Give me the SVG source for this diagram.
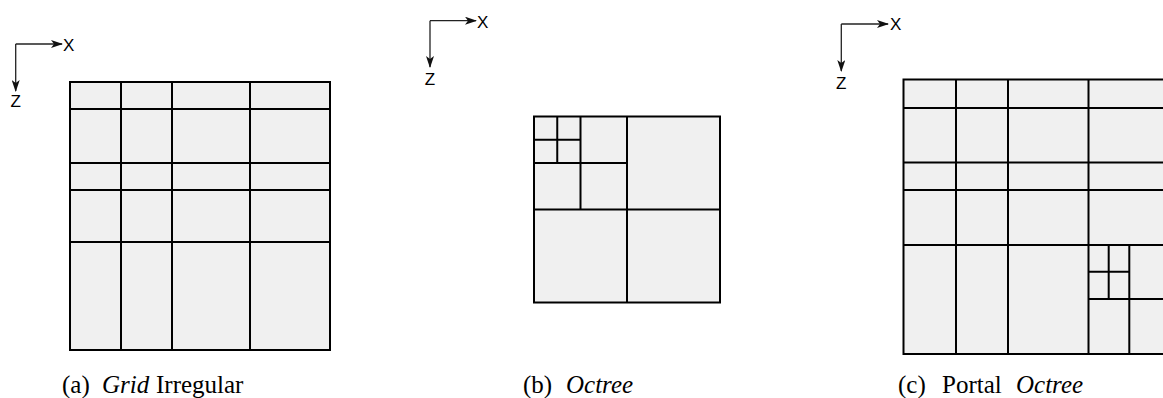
<svg xmlns="http://www.w3.org/2000/svg" width="1163" height="398" viewBox="0 0 1163 398">
<defs>
<marker id="ah" viewBox="0 0 12 8" refX="11" refY="4" markerWidth="12" markerHeight="8" markerUnits="userSpaceOnUse" orient="auto">
<path d="M0,0 L12,4 L0,8 L3,4 Z" fill="#111"/>
</marker>
</defs>
<style>
.cell{fill:#f0f0f0;stroke:#000;stroke-width:2}
.ln{stroke:#000;stroke-width:2;fill:none}
.ax{stroke:#222;stroke-width:1.3;fill:none;marker-end:url(#ah)}
.al{font-family:"Liberation Sans",Arial,sans-serif;font-size:17px;fill:#000}
.cap{font-family:"Liberation Serif","Times New Roman",serif;font-size:25px;fill:#000}
.it{font-style:italic}
</style>
<g id="connectors">
<path class="ax" d="M15.7,44 H62"/>
<path class="ax" d="M15.7,44 V91"/>
<path class="ax" d="M430,20.7 H476"/>
<path class="ax" d="M430,20.7 V67"/>
<path class="ax" d="M841.3,24 H888"/>
<path class="ax" d="M841.3,24 V71"/>
</g>
<g id="axes-a">
<text class="al" x="63" y="50.5">X</text>
<text class="al" x="15.7" y="107" text-anchor="middle">Z</text>
</g>
<g id="axes-b">
<text class="al" x="477" y="27.5">X</text>
<text class="al" x="430" y="84.5" text-anchor="middle">Z</text>
</g>
<g id="axes-c">
<text class="al" x="890" y="30">X</text>
<text class="al" x="841.3" y="88.5" text-anchor="middle">Z</text>
</g>
<g id="grid-a">
<rect class="cell" x="70" y="82" width="260" height="268"/>
<path class="ln" d="M121,82 V350 M172,82 V350 M250,82 V350 M70,109 H330 M70,163 H330 M70,190 H330 M70,242 H330"/>
</g>
<g id="octree-b">
<rect class="cell" x="534" y="116.5" width="186" height="186"/>
<path class="ln" d="M627,116.5 V302.5 M534,209.5 H720 M580.5,116.5 V209.5 M534,163 H627 M557.25,116.5 V163 M534,139.75 H580.5"/>
</g>
<g id="portal-octree-c">
<rect class="cell" x="903.5" y="79.5" width="268" height="274.5"/>
<path class="ln" d="M956,79.5 V354 M1008,79.5 V354 M1088.5,79.5 V354 M903.5,108 H1172 M903.5,162.5 H1172 M903.5,190 H1172 M903.5,245 H1172"/>
<path class="ln" d="M1108.7,245 V299 M1129.3,245 V354 M1088.5,271.7 H1129.3 M1088.5,299 H1172"/>
</g>
<g id="caption-a">
<text class="cap" y="393"><tspan x="62">(a)</tspan><tspan class="it" x="102">Grid</tspan><tspan x="156">Irregular</tspan></text>
</g>
<g id="caption-b">
<text class="cap" y="393"><tspan x="523">(b)</tspan><tspan class="it" x="566">Octree</tspan></text>
</g>
<g id="caption-c">
<text class="cap" y="393"><tspan x="898">(c)</tspan><tspan x="942">Portal</tspan><tspan class="it" x="1016">Octree</tspan></text>
</g>
</svg>
